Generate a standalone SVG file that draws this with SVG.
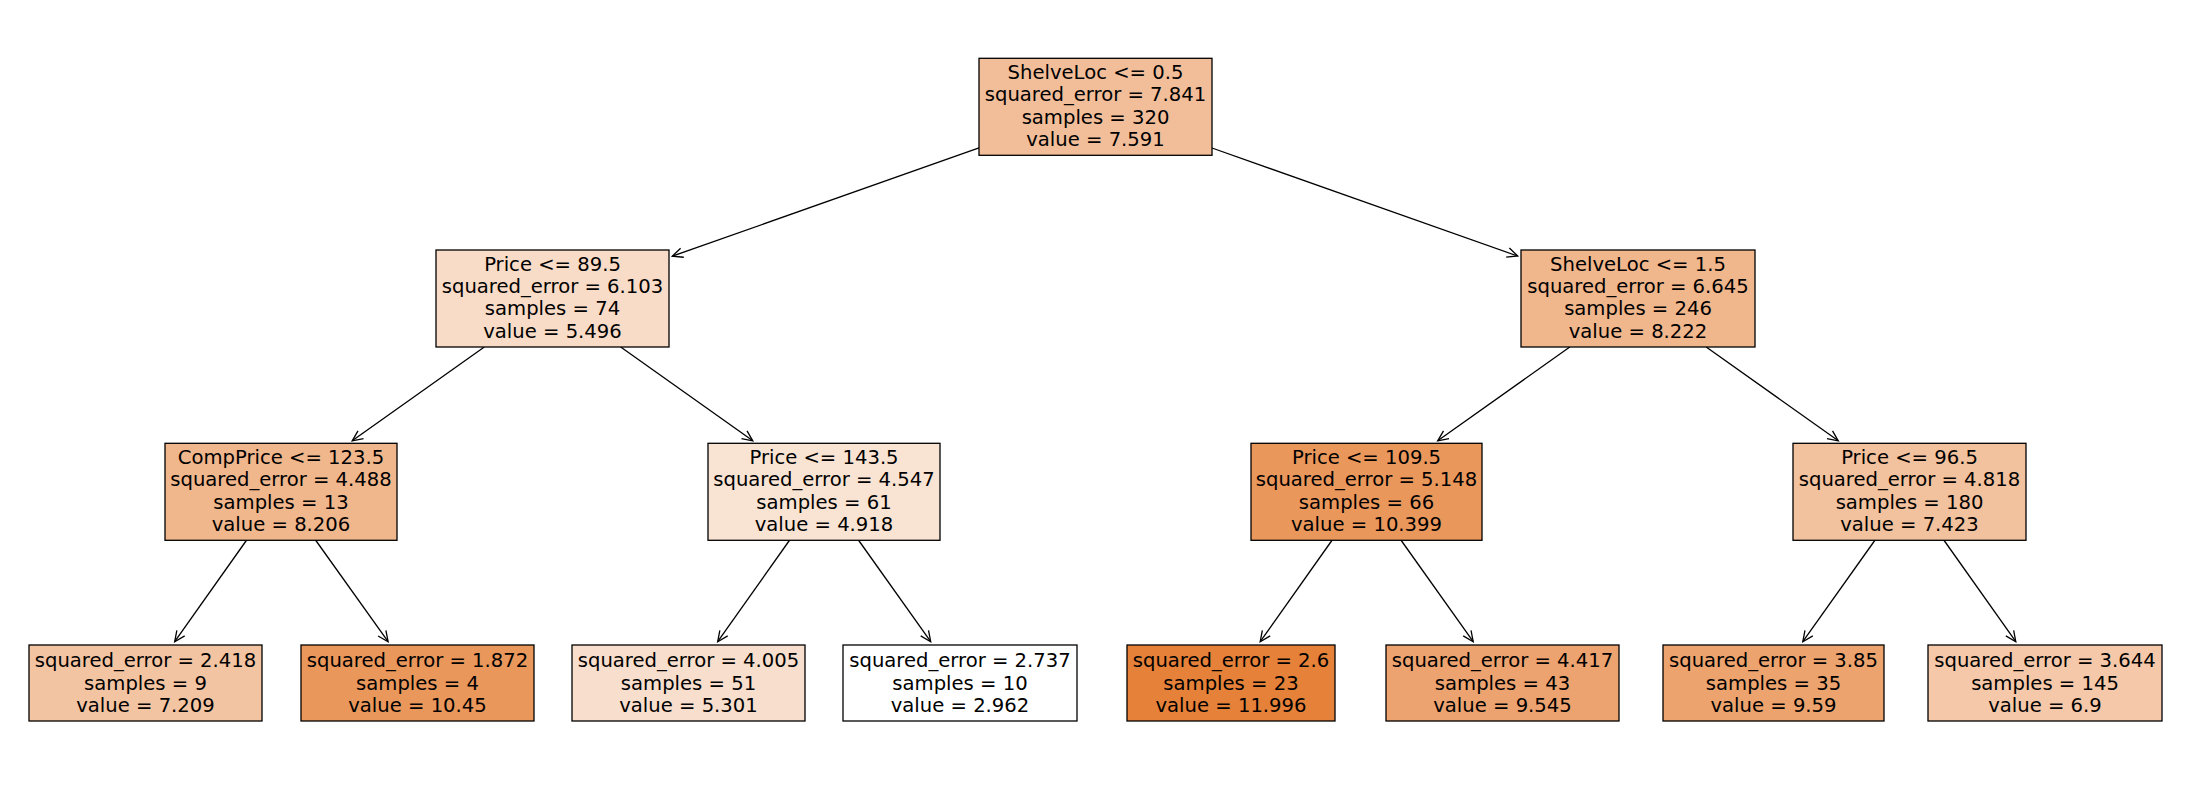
<svg xmlns="http://www.w3.org/2000/svg" width="2190" height="790" viewBox="0 0 2190 790">
<style>
.box{stroke:#000;stroke-width:1.3}
.t{font-family:"DejaVu Sans","Liberation Sans",sans-serif;font-size:19.6px;fill:#000;text-anchor:middle}
.e{stroke:#000;stroke-width:1.3;fill:none;marker-end:url(#ah)}
</style>
<defs>
<marker id="ah" markerUnits="userSpaceOnUse" markerWidth="14" markerHeight="14" viewBox="-12 -7 14 14" refX="0" refY="0" orient="auto">
<path d="M-10.5,-4.8 L0,0 L-10.5,4.8" fill="none" stroke="#000" stroke-width="1.3"/>
</marker>
</defs>
<rect width="2190" height="790" fill="#fff"/>
<g id="connectors">
<line class="e" x1="979" y1="147.9" x2="672.3" y2="256.2"/>
<line class="e" x1="1212" y1="148" x2="1517.7" y2="256"/>
<line class="e" x1="484.3" y1="347" x2="352.2" y2="440.8"/>
<line class="e" x1="620.7" y1="347" x2="752.8" y2="440.8"/>
<line class="e" x1="1569.8" y1="347" x2="1437.7" y2="440.8"/>
<line class="e" x1="1706.2" y1="347" x2="1838.3" y2="440.8"/>
<line class="e" x1="246.7" y1="540" x2="174.7" y2="641.7"/>
<line class="e" x1="315.5" y1="540" x2="388.1" y2="641.7"/>
<line class="e" x1="789.7" y1="540" x2="717.7" y2="641.7"/>
<line class="e" x1="858.4" y1="540" x2="930.7" y2="641.7"/>
<line class="e" x1="1332.2" y1="540" x2="1260.2" y2="641.7"/>
<line class="e" x1="1400.9" y1="540" x2="1473.2" y2="641.7"/>
<line class="e" x1="1875.1" y1="540" x2="1802.8" y2="641.7"/>
<line class="e" x1="1943.8" y1="540" x2="2015.8" y2="641.7"/>
</g>
<g id="n0">
<rect class="box" x="979" y="58.3" width="233" height="97" fill="#f2be9a"/>
<text class="t" x="1095.5" y="79.2">ShelveLoc &lt;= 0.5<tspan x="1095.5" dy="22.2">squared_error = 7.841</tspan><tspan x="1095.5" dy="22.2">samples = 320</tspan><tspan x="1095.5" dy="22.2">value = 7.591</tspan></text>
</g>
<g id="n1">
<rect class="box" x="436" y="250" width="233" height="97" fill="#f8dcc7"/>
<text class="t" x="552.5" y="270.9">Price &lt;= 89.5<tspan x="552.5" dy="22.2">squared_error = 6.103</tspan><tspan x="552.5" dy="22.2">samples = 74</tspan><tspan x="552.5" dy="22.2">value = 5.496</tspan></text>
</g>
<g id="n2">
<rect class="box" x="1521" y="250" width="234" height="97" fill="#f0b68c"/>
<text class="t" x="1638" y="270.9">ShelveLoc &lt;= 1.5<tspan x="1638" dy="22.2">squared_error = 6.645</tspan><tspan x="1638" dy="22.2">samples = 246</tspan><tspan x="1638" dy="22.2">value = 8.222</tspan></text>
</g>
<g id="n3">
<rect class="box" x="165" y="443.3" width="232" height="97" fill="#f0b68c"/>
<text class="t" x="281" y="464.2">CompPrice &lt;= 123.5<tspan x="281" dy="22.2">squared_error = 4.488</tspan><tspan x="281" dy="22.2">samples = 13</tspan><tspan x="281" dy="22.2">value = 8.206</tspan></text>
</g>
<g id="n4">
<rect class="box" x="708" y="443.3" width="232" height="97" fill="#f9e4d4"/>
<text class="t" x="824" y="464.2">Price &lt;= 143.5<tspan x="824" dy="22.2">squared_error = 4.547</tspan><tspan x="824" dy="22.2">samples = 61</tspan><tspan x="824" dy="22.2">value = 4.918</tspan></text>
</g>
<g id="n5">
<rect class="box" x="1251" y="443.3" width="231" height="97" fill="#ea975c"/>
<text class="t" x="1366.5" y="464.2">Price &lt;= 109.5<tspan x="1366.5" dy="22.2">squared_error = 5.148</tspan><tspan x="1366.5" dy="22.2">samples = 66</tspan><tspan x="1366.5" dy="22.2">value = 10.399</tspan></text>
</g>
<g id="n6">
<rect class="box" x="1793" y="443.3" width="233" height="97" fill="#f2c19d"/>
<text class="t" x="1909.5" y="464.2">Price &lt;= 96.5<tspan x="1909.5" dy="22.2">squared_error = 4.818</tspan><tspan x="1909.5" dy="22.2">samples = 180</tspan><tspan x="1909.5" dy="22.2">value = 7.423</tspan></text>
</g>
<g id="l1">
<rect class="box" x="29" y="645" width="233" height="76" fill="#f3c4a2"/>
<text class="t" x="145.5" y="667.3">squared_error = 2.418<tspan x="145.5" dy="22.2">samples = 9</tspan><tspan x="145.5" dy="22.2">value = 7.209</tspan></text>
</g>
<g id="l2">
<rect class="box" x="301" y="645" width="233" height="76" fill="#e9975b"/>
<text class="t" x="417.5" y="667.3">squared_error = 1.872<tspan x="417.5" dy="22.2">samples = 4</tspan><tspan x="417.5" dy="22.2">value = 10.45</tspan></text>
</g>
<g id="l3">
<rect class="box" x="572" y="645" width="233" height="76" fill="#f8decc"/>
<text class="t" x="688.5" y="667.3">squared_error = 4.005<tspan x="688.5" dy="22.2">samples = 51</tspan><tspan x="688.5" dy="22.2">value = 5.301</tspan></text>
</g>
<g id="l4">
<rect class="box" x="843" y="645" width="234" height="76" fill="#ffffff"/>
<text class="t" x="960" y="667.3">squared_error = 2.737<tspan x="960" dy="22.2">samples = 10</tspan><tspan x="960" dy="22.2">value = 2.962</tspan></text>
</g>
<g id="l5">
<rect class="box" x="1127" y="645" width="208" height="76" fill="#e58139"/>
<text class="t" x="1231" y="667.3">squared_error = 2.6<tspan x="1231" dy="22.2">samples = 23</tspan><tspan x="1231" dy="22.2">value = 11.996</tspan></text>
</g>
<g id="l6">
<rect class="box" x="1386" y="645" width="233" height="76" fill="#eca36f"/>
<text class="t" x="1502.5" y="667.3">squared_error = 4.417<tspan x="1502.5" dy="22.2">samples = 43</tspan><tspan x="1502.5" dy="22.2">value = 9.545</tspan></text>
</g>
<g id="l7">
<rect class="box" x="1663" y="645" width="221" height="76" fill="#eca36e"/>
<text class="t" x="1773.5" y="667.3">squared_error = 3.85<tspan x="1773.5" dy="22.2">samples = 35</tspan><tspan x="1773.5" dy="22.2">value = 9.59</tspan></text>
</g>
<g id="l8">
<rect class="box" x="1928" y="645" width="234" height="76" fill="#f4c8a9"/>
<text class="t" x="2045" y="667.3">squared_error = 3.644<tspan x="2045" dy="22.2">samples = 145</tspan><tspan x="2045" dy="22.2">value = 6.9</tspan></text>
</g>
</svg>
